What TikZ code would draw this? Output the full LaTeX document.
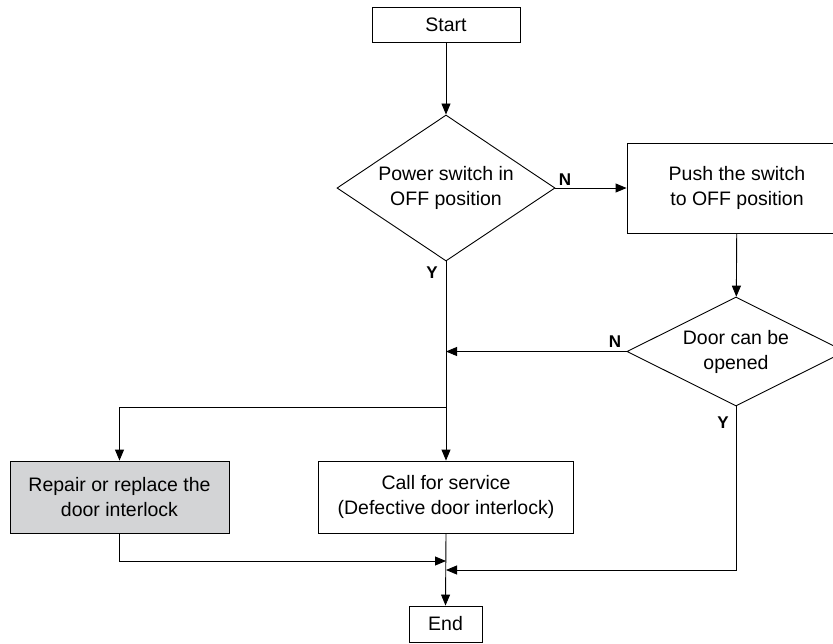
\documentclass[tikz,border=0pt]{standalone}
\usepackage{fontspec}
\setmainfont{Liberation Sans}
\usetikzlibrary{shapes.geometric,arrows.meta}
\definecolor{boxgray}{RGB}{211,212,214}
\begin{document}
\begin{tikzpicture}[x=1pt, y=-1pt,
  font=\fontsize{19.5}{25}\selectfont,
  box/.style={draw, line width=0.9pt, align=center, inner sep=0pt},
  decision/.style={draw, diamond, line width=0.9pt, align=center, inner sep=0pt},
  flow/.style={line width=0.9pt, -{Triangle[length=11pt, width=9pt]}},
  yn/.style={font=\fontsize{17}{20}\selectfont\bfseries}]

\path[use as bounding box, clip] (0,0) rectangle (833,643);

% boxes and decisions
\node[box, minimum width=148, minimum height=35] (start) at (446,24.5) {Start};
\node[decision, aspect=1.5, minimum width=218, minimum height=146] (pwr) at (446,188)
  {Power switch in\\OFF position};
\node[box, minimum width=220, minimum height=90] (push) at (737,188)
  {Push the switch\\to OFF position};
\node[decision, aspect=2, minimum width=218, minimum height=109] (door) at (736,351.5)
  {Door can be\\opened};
\node[box, fill=boxgray, minimum width=219, minimum height=72] (repair) at (119.5,497)
  {Repair or replace the\\door interlock};
\node[box, minimum width=255, minimum height=72] (call) at (446,497)
  {Call for service\\(Defective door interlock)};
\node[box, minimum width=73, minimum height=36] (end) at (445.5,624) {End};

% branch points
\coordinate (split) at (446,407);
\coordinate (joinL) at (446,561);
\coordinate (joinR) at (446,570);

% connectors
\draw[flow] (start) -- (pwr);
\draw[flow] (pwr.east) -- (push.west);
\draw[flow] (push) -- (door);
\draw[flow] (door.west) -- (pwr.south |- door.west);
\draw[flow] (pwr.south) -- (call.north);
\draw[flow] (split) -| (repair.north);
\draw[flow] (repair.south) |- (joinL);
\draw[flow] (door.south) |- (joinR);
\draw[flow] (call.south) -- (end.north);

% answers
\node[yn] (n1) at (565,180) {N};
\node[yn] (y1) at (432,273) {Y};
\node[yn] (n2) at (615,342) {N};
\node[yn] (y2) at (723,423) {Y};

\end{tikzpicture}
\end{document}
